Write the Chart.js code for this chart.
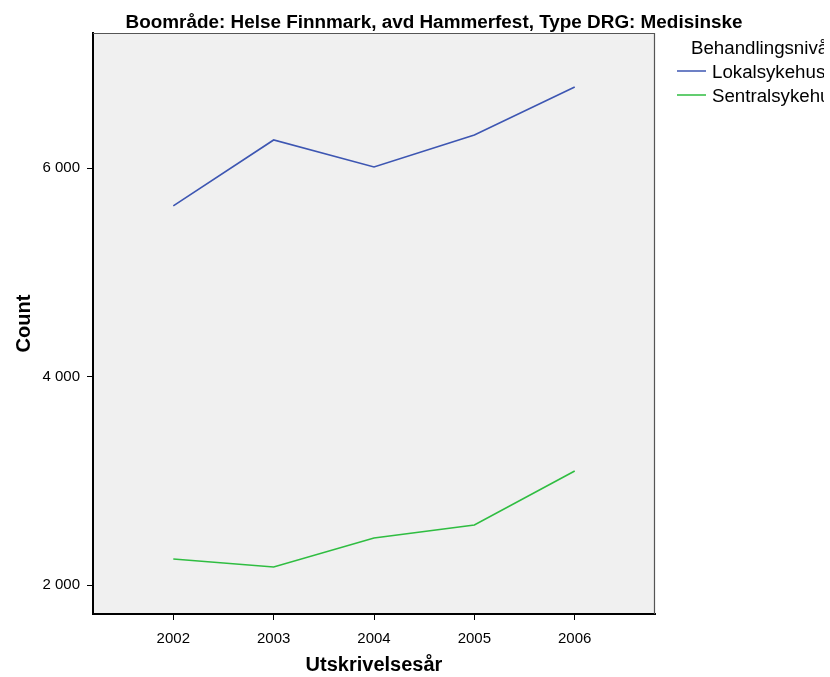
<!DOCTYPE html>
<html>
<head>
<meta charset="utf-8">
<script src="https://cdn.jsdelivr.net/npm/chart.js@4/dist/chart.umd.min.js"></script>
<style>
html,body{margin:0;padding:0;background:#fff;}
#wrap{width:830px;height:677px;position:relative;}
</style>
</head>
<body>
<div id="wrap"><canvas id="c" width="830" height="677"></canvas></div>
<script>
const chartTitle = 'Boområde: Helse Finnmark, avd Hammerfest, Type DRG: Medisinske';
const legendTitle = 'Behandlingsnivå';
const years = [2002, 2003, 2004, 2005, 2006];
const seriesNames = ['Lokalsykehus', 'Sentralsykehus'];
const lokalsykehus = [5636, 6269, 6010, 6317, 6777];
const sentralsykehus = [2249, 2173, 2451, 2576, 3094];
const yTicks = [2000, 4000, 6000];
const xLabel = 'Utskrivelsesår';
const yLabel = 'Count';

const FONT = 'Arial, "Liberation Sans", sans-serif';
const colors = ['#3d56b2', '#2fbd41'];

const plotDecor = {
  id: 'plotDecor',
  beforeDraw(chart) {
    const {ctx, chartArea: a} = chart;
    ctx.save();
    ctx.fillStyle = '#f0f0f0';
    ctx.fillRect(a.left, a.top, a.right - a.left, a.bottom - a.top);
    ctx.restore();
  },
  afterDraw(chart) {
    const {ctx, chartArea: a} = chart;
    ctx.save();
    ctx.strokeStyle = '#555';
    ctx.lineWidth = 1.2;
    ctx.beginPath();
    ctx.moveTo(a.left, a.top + 0.5);
    ctx.lineTo(a.right - 0.5, a.top + 0.5);
    ctx.lineTo(a.right - 0.5, a.bottom);
    ctx.stroke();
    // title
    ctx.fillStyle = '#000';
    ctx.font = 'bold 18.9px ' + FONT;
    ctx.textAlign = 'center';
    ctx.textBaseline = 'alphabetic';
    ctx.fillText(chartTitle, 434, 27.5);
    // legend (clipped at the right like the reference)
    ctx.beginPath();
    ctx.rect(660, 34, 164, 80);
    ctx.clip();
    ctx.font = '18.7px ' + FONT;
    ctx.textAlign = 'left';
    ctx.fillText(legendTitle, 691, 53.5);
    chart.data.datasets.forEach((ds, i) => {
      const y = 71 + i * 24;
      ctx.strokeStyle = ds.borderColor;
      ctx.lineWidth = 1.5;
      ctx.beginPath();
      ctx.moveTo(677, y);
      ctx.lineTo(706, y);
      ctx.stroke();
      ctx.fillStyle = '#000';
      ctx.fillText(ds.label, 712, y + 6.5);
    });
    ctx.restore();
  }
};

new Chart(document.getElementById('c'), {
  type: 'line',
  data: {
    datasets: [
      {label: seriesNames[0], data: years.map((x, i) => ({x, y: lokalsykehus[i]})), borderColor: colors[0], borderWidth: 1.6, pointRadius: 0, fill: false, tension: 0},
      {label: seriesNames[1], data: years.map((x, i) => ({x, y: sentralsykehus[i]})), borderColor: colors[1], borderWidth: 1.6, pointRadius: 0, fill: false, tension: 0}
    ]
  },
  options: {
    responsive: false,
    animation: false,
    events: [],
    layout: {padding: {top: 33, right: 175, left: 0, bottom: 0}},
    plugins: {legend: {display: false}, title: {display: false}, tooltip: {enabled: false}},
    scales: {
      x: {
        type: 'linear',
        min: 2001.2, max: 2006.8,
        afterBuildTicks: s => { s.ticks = years.map(v => ({value: v})); },
        afterFit: s => { s.height = 63; },
        ticks: {color: '#000', font: {family: FONT, size: 15}, padding: 9.5, maxRotation: 0, callback: v => String(v)},
        grid: {display: true, drawOnChartArea: false, drawTicks: true, tickLength: 6, color: '#000', lineWidth: 1},
        border: {display: true, color: '#000', width: 2},
        title: {display: true, text: xLabel, color: '#000', font: {family: FONT, size: 20, weight: 'bold'}, padding: {top: 0, bottom: 0}}
      },
      y: {
        type: 'linear',
        min: 1722, max: 7295,
        afterBuildTicks: s => { s.ticks = yTicks.map(v => ({value: v})); },
        afterFit: s => { s.width = 93; },
        ticks: {color: '#000', font: {family: FONT, size: 15}, padding: 7, callback: v => String(v).replace(/\B(?=(\d{3})+(?!\d))/g, ' ')},
        grid: {display: true, drawOnChartArea: false, drawTicks: true, tickLength: 6, color: '#000', lineWidth: 1},
        border: {display: true, color: '#000', width: 2},
        title: {display: true, text: yLabel, color: '#000', font: {family: FONT, size: 20, weight: 'bold'}, padding: {top: 12, bottom: 0}}
      }
    }
  },
  plugins: [plotDecor]
});
</script>
</body>
</html>
